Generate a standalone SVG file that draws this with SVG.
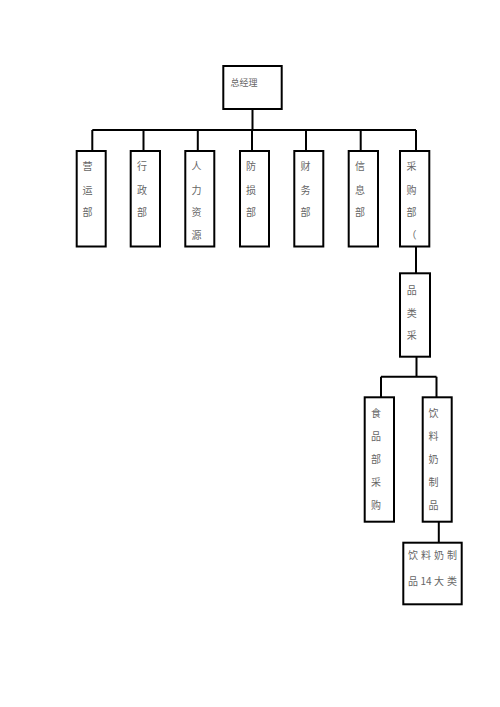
<svg xmlns="http://www.w3.org/2000/svg" width="500" height="707" viewBox="0 0 500 707">
<style>
.box{fill:#fff;stroke:#000;stroke-width:2}
.ln{fill:none;stroke:#000;stroke-width:2}
text{font-family:"Noto Sans CJK SC","Liberation Serif",serif;font-size:10px;fill:#666}
.c{text-anchor:middle}
</style>
<rect width="500" height="707" fill="#fff"/>
<g id="connectors">
<path class="ln" d="M252.5,109 V130 M92.3,130 H416 M92.3,130 V151 M143.5,130 V151 M197.8,130 V151 M252,130 V151 M306,130 V151 M360.7,130 V151 M416,130 V151"/>
<path class="ln" d="M416,246.5 V273.3"/>
<path class="ln" d="M416.5,356.7 V376.7 M381,376.7 H436.5 M381,376.7 V397.3 M436.5,376.7 V397.3"/>
<path class="ln" d="M438.8,521.7 V542.7"/>
</g>
<g id="n-zongjingli">
<rect class="box" x="223.3" y="66" width="58.4" height="43"/>
<text x="230.5" y="86" style="font-size:9px">总经理</text>
</g>
<g id="n-yingyun">
<rect class="box" x="76.7" y="151" width="29" height="95.5"/>
<text class="c" x="87.5" y="170">营</text><text class="c" x="87.5" y="193.5">运</text><text class="c" x="87.5" y="216">部</text>
</g>
<g id="n-xingzheng">
<rect class="box" x="130.7" y="151" width="29.3" height="95.5"/>
<text class="c" x="142" y="170">行</text><text class="c" x="142" y="193.5">政</text><text class="c" x="142" y="216">部</text>
</g>
<g id="n-renli">
<rect class="box" x="185.3" y="151" width="29" height="95.5"/>
<text class="c" x="196.5" y="170">人</text><text class="c" x="196.5" y="193.5">力</text><text class="c" x="196.5" y="216">资</text><text class="c" x="196.5" y="238.5">源</text>
</g>
<g id="n-fangsun">
<rect class="box" x="240" y="151" width="29" height="95.5"/>
<text class="c" x="251" y="170">防</text><text class="c" x="251" y="193.5">损</text><text class="c" x="251" y="216">部</text>
</g>
<g id="n-caiwu">
<rect class="box" x="294.3" y="151" width="29" height="95.5"/>
<text class="c" x="305.5" y="170">财</text><text class="c" x="305.5" y="193.5">务</text><text class="c" x="305.5" y="216">部</text>
</g>
<g id="n-xinxi">
<rect class="box" x="348.7" y="151" width="29.3" height="95.5"/>
<text class="c" x="360" y="170">信</text><text class="c" x="360" y="193.5">息</text><text class="c" x="360" y="216">部</text>
</g>
<g id="n-caigou">
<rect class="box" x="400" y="151" width="29.3" height="95.5"/>
<text class="c" x="411.5" y="170">采</text><text class="c" x="411.5" y="193.5">购</text><text class="c" x="411.5" y="216">部</text><text class="c" x="411.5" y="238.5">（</text>
</g>
<g id="n-pinlei">
<rect class="box" x="400" y="273.3" width="30" height="83.4"/>
<text class="c" x="411.7" y="293.5">品</text><text class="c" x="411.7" y="316.8">类</text><text class="c" x="411.7" y="338.5">采</text>
</g>
<g id="n-shipin">
<rect class="box" x="364.7" y="397.3" width="29.3" height="124.4"/>
<text class="c" x="376" y="416.8">食</text><text class="c" x="376" y="440.2">品</text><text class="c" x="376" y="462.8">部</text><text class="c" x="376" y="486.2">采</text><text class="c" x="376" y="508.5">购</text>
</g>
<g id="n-yinliao">
<rect class="box" x="422.7" y="397.3" width="29" height="124.4"/>
<text class="c" x="433.5" y="416.8">饮</text><text class="c" x="433.5" y="440.2">料</text><text class="c" x="433.5" y="462.8">奶</text><text class="c" x="433.5" y="486.2">制</text><text class="c" x="433.5" y="508.5">品</text>
</g>
<g id="n-14dalei">
<rect class="box" x="403.3" y="542.7" width="58.4" height="61.6"/>
<text class="c" x="413" y="559.2">饮</text><text class="c" x="426" y="559.2">料</text><text class="c" x="439" y="559.2">奶</text><text class="c" x="452" y="559.2">制</text>
<text class="c" x="413" y="585.2">品</text><text class="c" x="426" y="585.2">14</text><text class="c" x="439" y="585.2">大</text><text class="c" x="452" y="585.2">类</text>
</g>
</svg>
